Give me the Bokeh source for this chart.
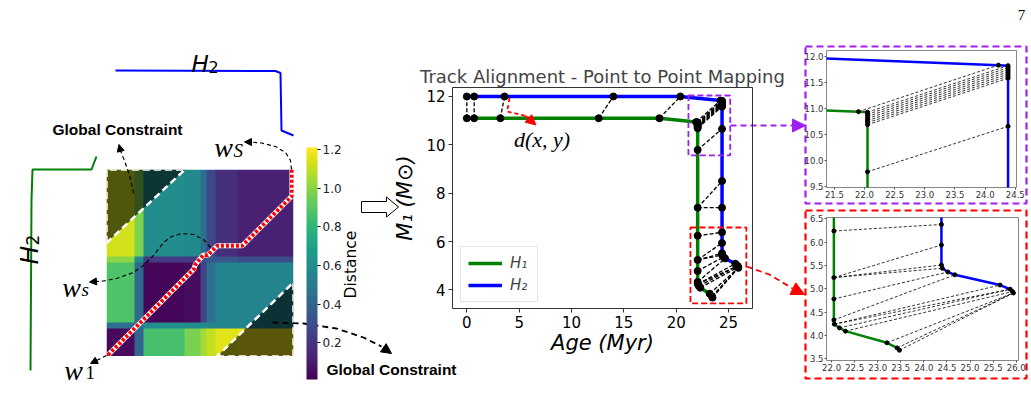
import numpy as np
from bokeh.plotting import figure
from bokeh.models import (Range1d, LinearColorMapper, ColorBar, FixedTicker, Arrow, NormalHead,
                          Column, PrintfTickFormatter)
from bokeh.palettes import Viridis256
from bokeh.core.properties import value
from bokeh.embed import file_html
from bokeh.resources import INLINE

# ---------------- track data (Age [Myr], M1 [Msun]) ----------------
h1_age = [0.0, 0.7, 3.2, 12.6, 18.4, 21.9,
          22.05, 22.05, 22.05, 22.05, 22.05, 22.05, 22.05,
          22.05, 22.05, 22.05, 22.05, 22.05, 22.05,
          22.06, 22.17, 22.3, 23.2, 23.42, 23.47]
h1_mass = [11.1, 11.1, 11.1, 11.1, 11.1, 10.94,
           10.93, 10.89, 10.85, 10.81, 10.77, 10.73, 10.69,
           9.79, 7.4, 6.24, 5.24, 4.78, 4.33,
           4.24, 4.16, 4.09, 3.84, 3.73, 3.68]
h2_age = [0.0, 0.7, 3.6, 14.0, 20.4, 24.22,
          24.38, 24.38, 24.38, 24.38, 24.38, 24.38, 24.38,
          24.38, 24.38, 24.38, 24.38, 24.38, 24.38,
          24.4, 24.52, 24.67, 25.65, 25.87, 25.92, 25.94]
h2_mass = [12.0, 12.0, 12.0, 12.0, 12.0, 11.83,
           11.82, 11.78, 11.74, 11.70, 11.66, 11.62, 11.58,
           10.66, 8.5, 7.4, 6.38, 5.94, 5.51,
           5.44, 5.36, 5.30, 5.08, 4.99, 4.94, 4.91]
# point-to-point mapping (index into H1, index into H2)
map_h1 = [0, 1, 2, 3, 4, 5, 6, 7, 8, 9, 10, 11, 12, 13, 14, 14, 15, 16, 16, 16, 17, 18, 19, 19, 20, 21, 22, 23, 24]
map_h2 = [0, 1, 2, 3, 4, 5, 6, 7, 8, 9, 10, 11, 12, 13, 14, 15, 16, 17, 18, 19, 20, 21, 22, 23, 23, 24, 25, 25, 25]

main_xticks = [0, 5, 10, 15, 20, 25]
main_yticks = [4, 6, 8, 10, 12]
# zoom regions drawn on the main axes
box1 = dict(left=21.17, right=25.16, bottom=9.56, top=12.04)
box2 = dict(left=21.36, right=26.7, bottom=3.44, top=6.58)
inset1_xlim = (21.37, 24.52)
inset1_ylim = (9.49, 12.11)
inset1_xticks = [21.5, 22.0, 22.5, 23.0, 23.5, 24.0, 24.5]
inset1_yticks = [9.5, 10.0, 10.5, 11.0, 11.5, 12.0]
inset2_xlim = (21.89, 26.05)
inset2_ylim = (3.46, 6.53)
inset2_xticks = [22.0, 22.5, 23.0, 23.5, 24.0, 24.5, 25.0, 25.5, 26.0]
inset2_yticks = [3.5, 4.0, 4.5, 5.0, 5.5, 6.0, 6.5]

# ---------------- DTW distance matrix (block structure) ----------------
hm_col_edges = [0, 9, 12, 25, 30, 32, 35, 42, 60]
hm_row_edges = [0, 9, 11, 30, 32, 60]
hm_blocks = [
    [0.04, 0.40, 0.86, 0.97, 1.05, 1.10, 1.15, 1.18],
    [0.45, 0.45, 0.60, 0.60, 0.58, 0.56, 0.55, 0.55],
    [0.88, 0.42, 0.03, 0.05, 0.25, 0.45, 0.55, 0.55],
    [1.00, 0.60, 0.22, 0.22, 0.30, 0.35, 0.33, 0.30],
    [1.13, 0.98, 0.60, 0.58, 0.45, 0.28, 0.17, 0.12],
]
cbar_ticks = [0.2, 0.4, 0.6, 0.8, 1.0, 1.2]
mask_tl_x = [0, 0, 25.2]
mask_tl_y = [36.4, 60, 60]
mask_br_x = [35.4, 60, 60]
mask_br_y = [0, 0, 23.8]
path_x = [0.5, 28, 28.5, 31, 32.5, 35.5, 43.5, 59.5, 59.5]
path_y = [0.5, 28, 29.5, 32.5, 32.5, 35.5, 35.5, 51.5, 60]

N = hm_col_edges[-1]
ci = np.searchsorted(hm_col_edges, np.arange(N), side="right") - 1
ri = np.searchsorted(hm_row_edges, np.arange(N), side="right") - 1
hm = np.array(hm_blocks)[ri][:, ci]

mapper = LinearColorMapper(palette=Viridis256, low=0.01, high=1.21)

map_xs = [[h1_age[i], h2_age[j]] for i, j in zip(map_h1, map_h2)]
map_ys = [[h1_mass[i], h2_mass[j]] for i, j in zip(map_h1, map_h2)]

# all panels share the same side borders (the column aligns them), and are placed absolutely
BL, BR = 59, 51
PAGE_W, PAGE_H = 1031, 403


def place(frame_left, top):
    return {"position": "absolute", "left": f"{frame_left - BL}px", "top": f"{top}px"}


# ---------------- heatmap panel ----------------
heat = figure(frame_width=187, frame_height=187, x_range=Range1d(0, N), y_range=Range1d(0, N),
              x_axis_type=None, y_axis_type=None, toolbar_location=None, output_backend="svg",
              min_border_left=BL, min_border_right=BR, min_border_top=0, min_border_bottom=0,
              outline_line_color=None, border_fill_color=None, styles=place(103, 169))
heat.image(image=[hm], x=0, y=0, dw=N, dh=N, color_mapper=mapper)
for mx, my in ((mask_tl_x, mask_tl_y), (mask_br_x, mask_br_y)):
    heat.patch(mx, my, fill_color="black", fill_alpha=0.62, line_color="white",
               line_width=2.5, line_dash="7 4")
heat.line(path_x, path_y, line_color="white", line_width=5)
heat.line(path_x, path_y, line_color="red", line_width=4, line_dash="3 2")


# ---------------- decoration canvases (page pixel coordinates) ----------------
def deco_canvas(x0):
    fw = PAGE_W - BL - BR
    return figure(frame_width=fw, frame_height=PAGE_H, x_range=Range1d(x0, x0 + fw),
                  y_range=Range1d(PAGE_H, 0), x_axis_type=None, y_axis_type=None,
                  toolbar_location=None, output_backend="svg",
                  min_border_left=BL, min_border_right=BR, min_border_top=0, min_border_bottom=0,
                  outline_line_color=None, background_fill_color=None, border_fill_color=None,
                  styles=place(x0, 0))


bgL = deco_canvas(0)
bgR = deco_canvas(PAGE_W - (PAGE_W - BL - BR))

UP = np.pi / 2  # text reading bottom-to-top on these (y-down) canvases


def txt(p, x, y, s, font, size, style="normal", align="center", baseline="middle", angle=0.0,
        color="black"):
    p.text(x=[x], y=[y], text=[s], text_font=value(font), text_font_size=value(size),
           text_font_style=value(style), text_align=value(align), text_baseline=value(baseline),
           angle=angle, text_color=value(color))


def head(p, x0, y0, x1, y1, color, size):
    p.add_layout(Arrow(end=NormalHead(size=size, fill_color=color, line_color=color, line_width=1),
                       x_start=x0, y_start=y0, x_end=x1, y_end=y1, line_alpha=0))


def dashed_arrow(p, xs, ys, hx, hy, color="black", width=1.2, dash="4 3", size=7):
    p.line(xs, ys, line_color=color, line_width=width, line_dash=dash)
    head(p, xs[-1], ys[-1], hx, hy, color, size)


# sketches of the two tracks
bgL.line([112, 272, 277, 278, 290], [70, 70.5, 72.5, 130, 135], line_color="blue", line_width=2)
bgL.line([27, 28, 29, 88, 93], [370, 200, 169, 169, 156], line_color="green", line_width=2)
txt(bgL, 188, 63, "H", "DejaVu Sans", "23px", "italic", "left", "alphabetic")
txt(bgL, 205, 66, "2", "DejaVu Sans", "16px", "normal", "left", "alphabetic")
txt(bgL, 26, 264, "H", "DejaVu Sans", "25px", "italic", "left", "alphabetic", UP)
txt(bgL, 29, 245, "2", "DejaVu Sans", "17px", "normal", "left", "alphabetic", UP)

txt(bgL, 114, 129, "Global Constraint", "Liberation Sans", "15.5px", "bold")
txt(bgL, 388, 369, "Global Constraint", "Liberation Sans", "15.5px", "bold")

txt(bgL, 220, 147, "w", "Liberation Serif", "28px", "italic", "center", "alphabetic")
txt(bgL, 230, 150, "S", "Liberation Serif", "19px", "italic", "left", "alphabetic")
txt(bgL, 68, 286.5, "w", "Liberation Serif", "28px", "italic", "center", "alphabetic")
txt(bgL, 78, 289, "s", "Liberation Serif", "19px", "italic", "left", "alphabetic")
txt(bgL, 70, 370, "w", "Liberation Serif", "28px", "italic", "center", "alphabetic")
txt(bgL, 82, 372, "1", "Liberation Serif", "19px", "normal", "left", "alphabetic")

dashed_arrow(bgL, [130, 127, 122, 117], [193, 178, 163, 150], 115.5, 144)
dashed_arrow(bgL, [288, 287, 282, 272, 258, 247], [169, 160, 152, 146, 142.5, 141.5], 241, 141.5)
dashed_arrow(bgL, [207, 200, 190, 178, 168, 160, 150, 140, 130, 113, 100, 92],
             [247, 239, 234, 233, 236, 242, 255, 265, 272, 278, 280.5, 281], 86, 281.5)
dashed_arrow(bgL, [103, 93], [355, 360], 87, 363)
dashed_arrow(bgL, [269, 300, 333, 360, 378], [322, 323, 328, 337, 346], 388, 353,
             width=1.8, dash="6 4", size=10)

# colour bar
cb = ColorBar(color_mapper=mapper, location=(303, 24), width=11, height=232, padding=0,
              ticker=FixedTicker(ticks=cbar_ticks), formatter=PrintfTickFormatter(format="%.1f"),
              major_label_text_font_size="12px", major_label_text_font="DejaVu Sans",
              major_label_text_color="#222222", major_tick_in=0, major_tick_out=3,
              major_tick_line_color="black", minor_tick_line_color=None, label_standoff=2,
              bar_line_color=None, border_line_color=None, background_fill_color=None)
bgL.add_layout(cb)
txt(bgL, 347.5, 264, "Distance", "DejaVu Sans", "15.5px", angle=UP)

# hollow arrow heatmap -> tracks
bgL.patch([358, 383, 383, 395, 383, 383, 358], [201, 201, 196.5, 206.5, 216.5, 212, 212],
          fill_color="white", line_color="black", line_width=1)

# inset frames and connectors
bgR.quad(left=802, right=1023, top=46, bottom=203, fill_color=None, line_color="#a020f0",
         line_width=2.2, line_dash="7 4")
bgR.quad(left=802, right=1023, top=210, bottom=378, fill_color=None, line_color="red",
         line_width=2.2, line_dash="7 4")
dashed_arrow(bgR, [727, 789], [125, 125], 802, 125, color="#a020f0", width=1.8, dash="6 4", size=13)
dashed_arrow(bgR, [743, 766, 789], [266, 274, 288], 801, 294, color="red", width=1.8, dash="6 4", size=13)

txt(bgR, 1018, 14, "7", "Liberation Serif", "15px")

# ---------------- main panel ----------------
mp = figure(frame_width=300, frame_height=221, x_range=Range1d(-1.37, 27.29),
            y_range=Range1d(3.229, 12.372), toolbar_location=None, output_backend="svg",
            min_border_left=BL, min_border_right=BR, min_border_top=87, min_border_bottom=95,
            title="Track Alignment - Point to Point Mapping", background_fill_color=None,
            border_fill_color=None, styles=place(449, 0))
mp.title.align = "center"
mp.title.text_font = "DejaVu Sans"
mp.title.text_font_style = "normal"
mp.title.text_font_size = "18px"
mp.title.standoff = 2
mp.grid.visible = False
mp.outline_line_color = "#333333"
mp.axis.axis_line_color = None
mp.axis.major_tick_in = 0
mp.axis.major_tick_out = 4
mp.axis.minor_tick_in = 0
mp.axis.minor_tick_out = 0
mp.axis.major_tick_line_color = "#333333"
mp.axis.major_label_standoff = 3
mp.axis.major_label_text_font = "DejaVu Sans"
mp.axis.major_label_text_font_size = "15px"
mp.axis.major_label_text_color = "black"
mp.axis.axis_label_text_font = "DejaVu Sans"
mp.axis.axis_label_text_font_size = "21px"
mp.axis.axis_label_text_color = "black"
mp.xaxis.ticker = FixedTicker(ticks=main_xticks)
mp.yaxis.ticker = FixedTicker(ticks=main_yticks)
mp.xaxis.axis_label = "Age (Myr)"
mp.xaxis.axis_label_standoff = 0
mp.yaxis.axis_label = "M₁ (M⊙)"
mp.yaxis.axis_label_text_font_style = "italic"
mp.yaxis.axis_label_standoff = 6

mp.line(h1_age, h1_mass, line_color="green", line_width=3.5, legend_label="H₁")
mp.line(h2_age, h2_mass, line_color="blue", line_width=3.5, legend_label="H₂")
mp.multi_line(map_xs, map_ys, line_color="black", line_width=1.3, line_dash="4 2")
mp.scatter(h1_age, h1_mass, size=7, color="black")
mp.scatter(h2_age, h2_mass, size=7, color="black")
mp.quad(left=[box1["left"]], right=[box1["right"]], bottom=[box1["bottom"]], top=[box1["top"]],
        fill_color=None, line_color="#a020f0", line_width=1.8, line_dash="6 3")
mp.quad(left=[box2["left"]], right=[box2["right"]], bottom=[box2["bottom"]], top=[box2["top"]],
        fill_color=None, line_color="red", line_width=1.8, line_dash="6 3")
# d(x, y) annotation
mp.line([4.07, 3.85, 5.6], [11.93, 11.38, 11.2], line_color="red", line_width=1.8, line_dash="4 3")
mp.add_layout(Arrow(end=NormalHead(size=10, fill_color="red", line_color="red"),
                    x_start=5.6, y_start=11.2, x_end=6.6, y_end=10.82,
                    line_color="red", line_width=1.8, line_dash="4 3"))
mp.text(x=[7.18], y=[10.22], text=["d(x, y)"], text_font=value("Liberation Serif"),
        text_font_style="italic", text_font_size=value("22px"), text_align="center",
        text_baseline="middle")

mp.legend.location = (8, 6)
mp.legend.margin = 0
mp.legend.padding = 7
mp.legend.spacing = 4
mp.legend.glyph_width = 34
mp.legend.glyph_height = 16
mp.legend.label_height = 16
mp.legend.label_standoff = 8
mp.legend.label_text_font = "DejaVu Sans"
mp.legend.label_text_font_style = "italic"
mp.legend.label_text_font_size = "15px"
mp.legend.border_line_color = "#cccccc"
mp.legend.background_fill_alpha = 0.8


# ---------------- zoom insets ----------------
def make_inset(xlim, ylim, xticks, yticks, fw, fh, top):
    p = figure(frame_width=fw, frame_height=fh, x_range=Range1d(*xlim), y_range=Range1d(*ylim),
               toolbar_location=None, output_backend="svg",
               min_border_left=BL, min_border_right=BR, min_border_top=10, min_border_bottom=14,
               background_fill_color="white", border_fill_color=None, styles=place(823, top))
    p.grid.visible = False
    p.outline_line_color = "#888888"
    p.axis.axis_line_color = None
    p.xaxis.ticker = FixedTicker(ticks=xticks)
    p.yaxis.ticker = FixedTicker(ticks=yticks)
    p.xaxis.formatter = PrintfTickFormatter(format="%.1f")
    p.yaxis.formatter = PrintfTickFormatter(format="%.1f")
    p.axis.major_label_text_font = "DejaVu Sans"
    p.axis.major_label_text_font_size = "8.5px"
    p.axis.major_label_text_color = "#333333"
    p.axis.major_tick_in = 0
    p.axis.major_tick_out = 2
    p.axis.minor_tick_in = 0
    p.axis.minor_tick_out = 0
    p.axis.major_tick_line_color = "#555555"
    p.axis.major_label_standoff = 1
    p.line(h1_age, h1_mass, line_color="green", line_width=2.5)
    p.line(h2_age, h2_mass, line_color="blue", line_width=2.5)
    p.multi_line(map_xs, map_ys, line_color="black", line_width=0.8, line_dash="3 2")
    p.scatter(h1_age, h1_mass, size=4, color="black")
    p.scatter(h2_age, h2_mass, size=4, color="black")
    return p


in1 = make_inset(inset1_xlim, inset1_ylim, inset1_xticks, inset1_yticks, 190, 137, 40)
in2 = make_inset(inset2_xlim, inset2_ylim, inset2_xticks, inset2_yticks, 192, 143, 207)

layout = Column(children=[heat, bgL, bgR, mp, in1, in2], width=PAGE_W, height=PAGE_H,
                styles={"position": "relative", "overflow": "hidden"})

open("out.html", "w").write(file_html(layout, INLINE))
